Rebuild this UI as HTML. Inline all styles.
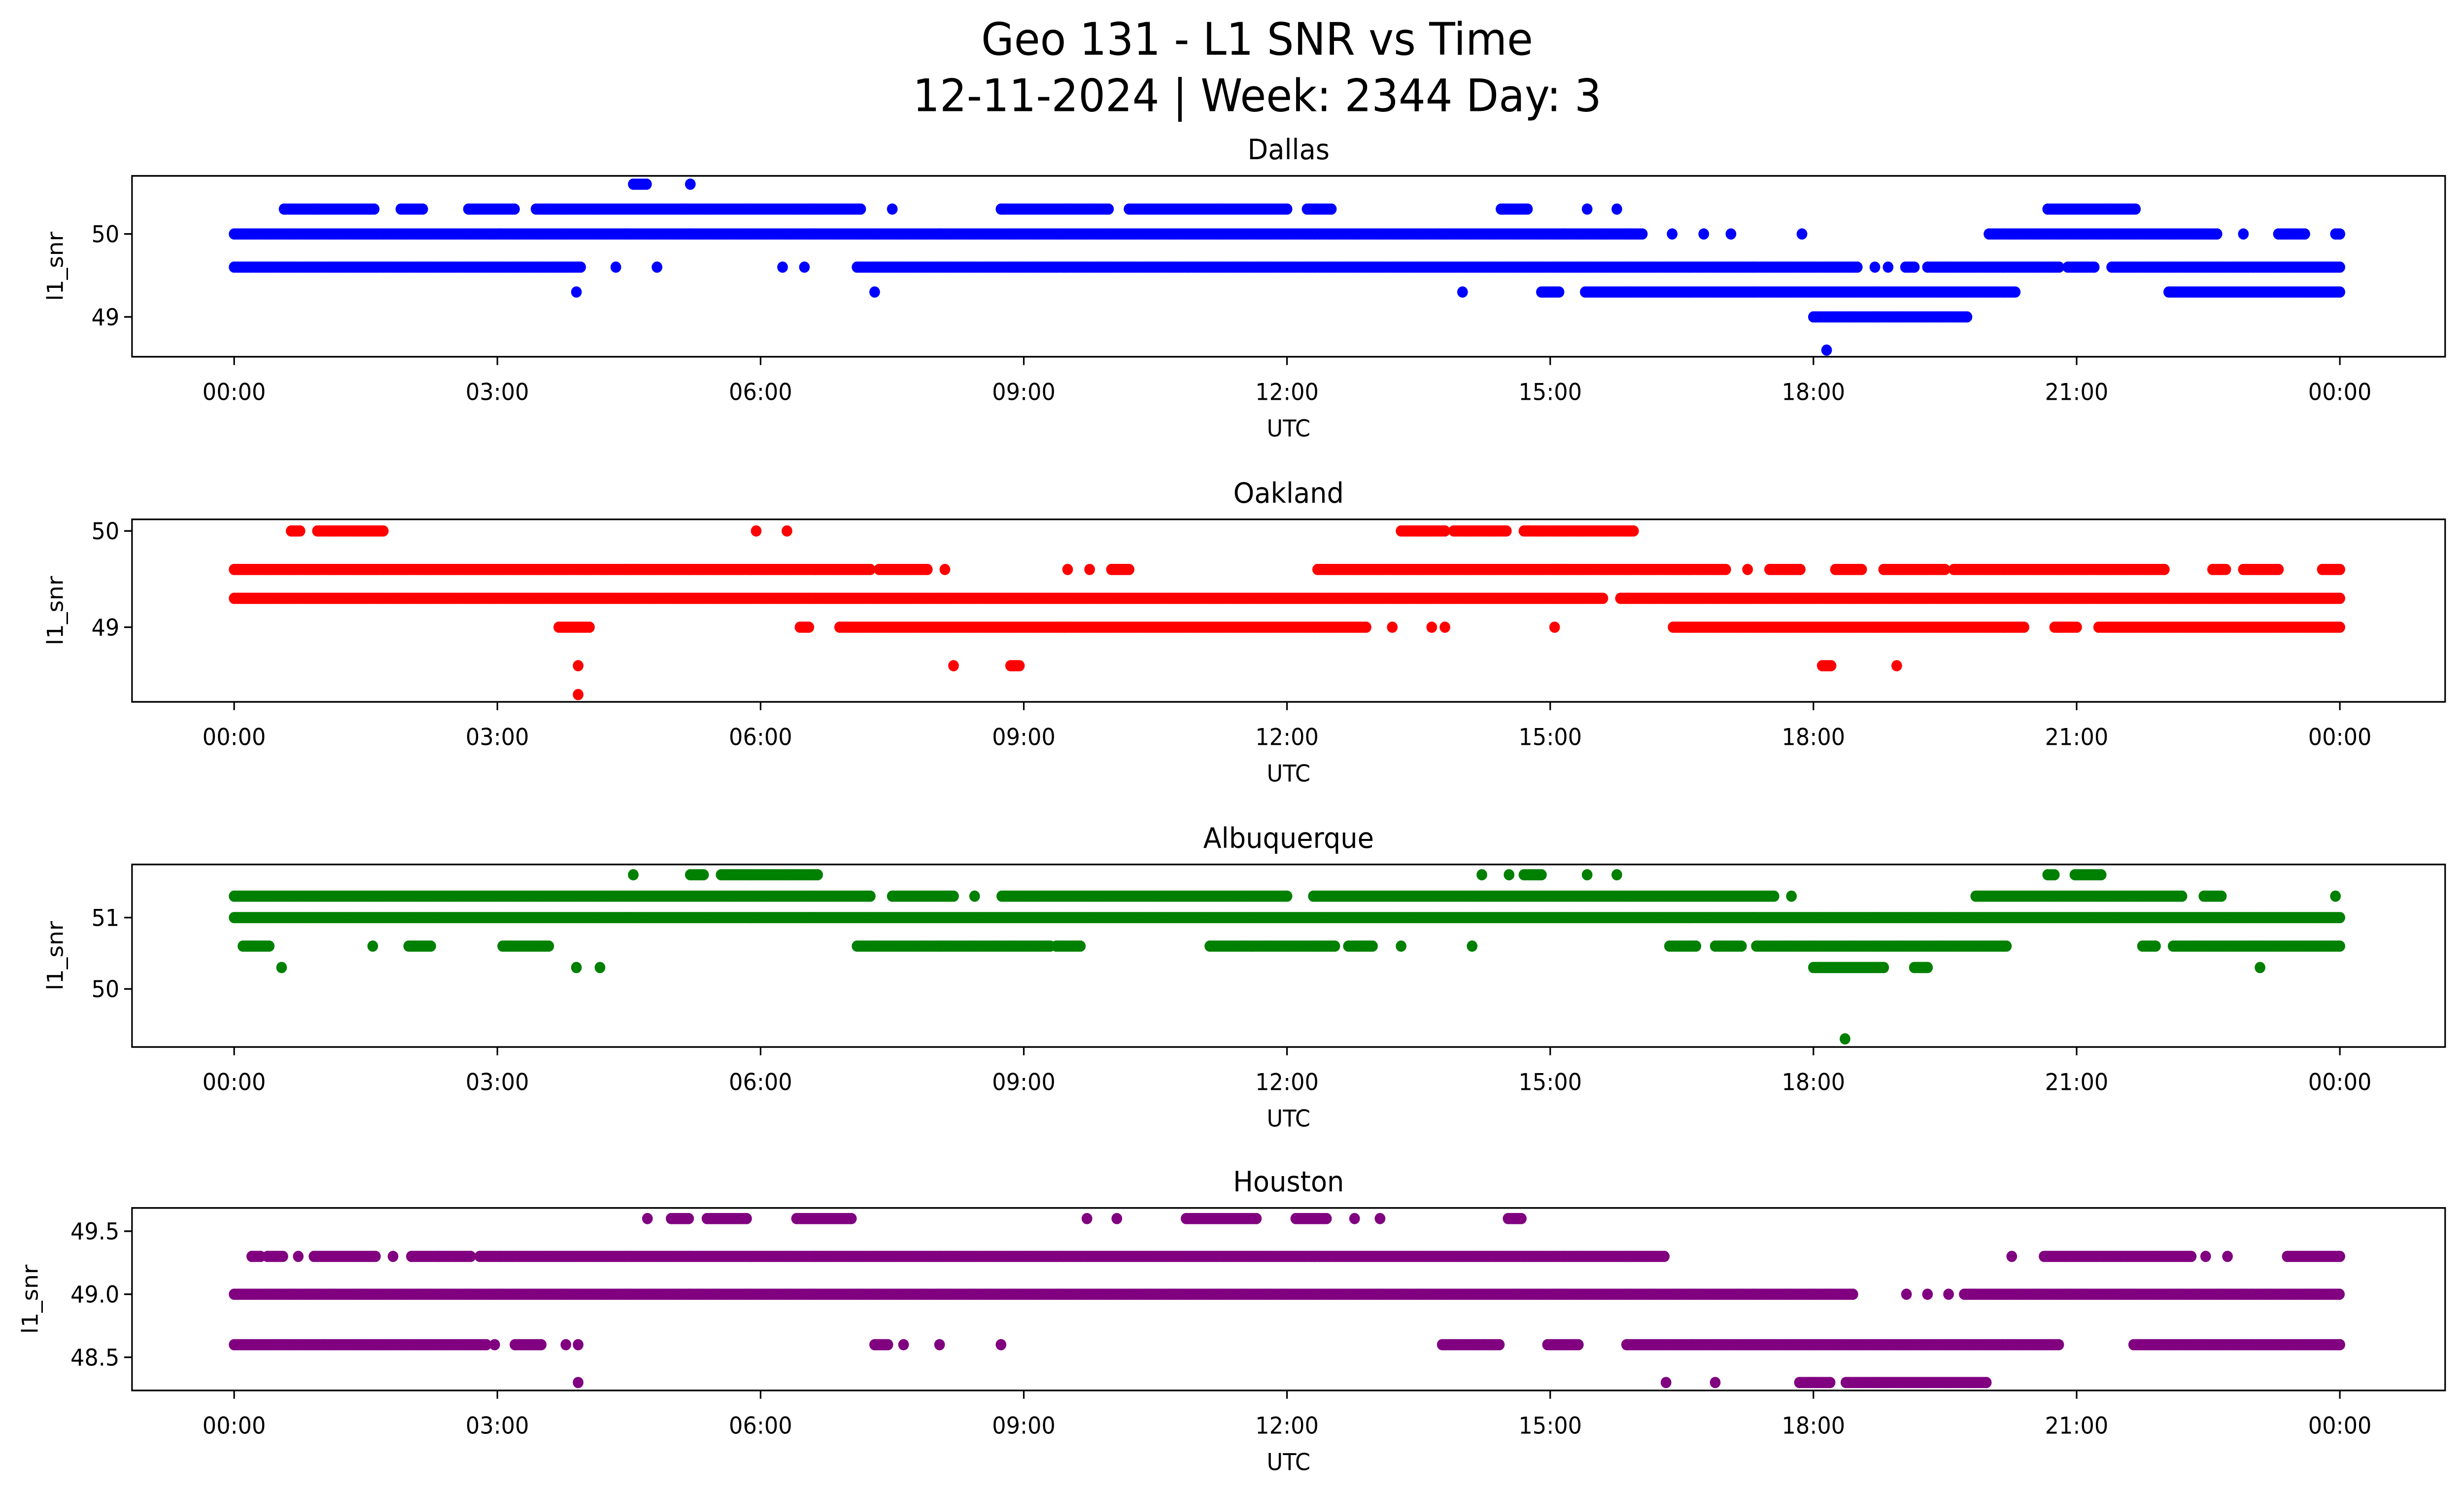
<!DOCTYPE html>
<html><head><meta charset="utf-8"><style>
html,body{margin:0;padding:0;background:#fff;width:100%;height:100%;overflow:hidden}
svg{display:block;position:absolute;left:0;top:0;width:100vw;height:100vh;font-family:"DejaVu Sans","Liberation Sans",sans-serif}
</style></head><body>
<svg id="fig" viewBox="0 0 1568 901" preserveAspectRatio="none" xmlns="http://www.w3.org/2000/svg">
<rect width="1568" height="901" fill="#fff"/>
<text x="800" y="33" font-size="27" text-anchor="middle">Geo 131 - L1 SNR vs Time</text>
<text x="800" y="67" font-size="27" text-anchor="middle">12-11-2024 | Week: 2344 Day: 3</text>
</svg>
<script>
const xTickLabels = ["00:00","03:00","06:00","09:00","12:00","15:00","18:00","21:00","00:00"];
const xTickHours = [0,3,6,9,12,15,18,21,24];
const stationNames = ["Dallas","Oakland","Albuquerque","Houston"];
const stationColors = ["blue","red","green","purple"];
const dallasLevels = [50.6,50.3,50.0,49.6,49.3,49.0,48.6];
const dallasRuns = [
 [[4.55,4.7],[5.2,5.2]],
 [[0.57,1.6],[1.9,2.17],[2.67,3.2],[3.44,7.15],[7.5,7.5],[8.74,9.98],[10.2,12.0],[12.23,12.52],[14.44,14.74],[15.42,15.42],[15.76,15.76],[20.67,21.69]],
 [[0,16.05],[16.39,16.39],[16.75,16.75],[17.06,17.06],[17.87,17.87],[20.0,22.6],[22.9,22.9],[23.3,23.6],[23.95,24]],
 [[0,3.95],[4.35,4.35],[4.82,4.82],[6.25,6.25],[6.5,6.5],[7.1,18.5],[18.7,18.7],[18.85,18.85],[19.05,19.15],[19.3,20.8],[20.9,21.2],[21.4,24]],
 [[3.9,3.9],[7.3,7.3],[14.0,14.0],[14.9,15.1],[15.4,20.3],[22.05,24]],
 [[18.0,19.75]],
 [[18.15,18.15]]
];
const oaklandLevels = [50.0,49.6,49.3,49.0,48.6,48.3];
const oaklandRuns = [
 [[0.65,0.75],[0.95,1.7],[5.95,5.95],[6.3,6.3],[13.3,13.8],[13.9,14.5],[14.7,15.95]],
 [[0,7.27],[7.35,7.9],[8.1,8.1],[9.5,9.5],[9.75,9.75],[10,10.2],[12.35,17.0],[17.25,17.25],[17.5,17.85],[18.25,18.55],[18.8,19.5],[19.6,22.0],[22.55,22.7],[22.9,23.3],[23.8,24]],
 [[0,15.6],[15.8,24]],
 [[3.7,4.05],[6.45,6.55],[6.9,12.9],[13.2,13.2],[13.65,13.65],[13.8,13.8],[15.05,15.05],[16.4,20.4],[20.75,21.0],[21.25,24]],
 [[3.92,3.92],[8.2,8.2],[8.85,8.95],[18.1,18.2],[18.95,18.95]],
 [[3.92,3.92]]
];
const albuquerqueLevels = [51.6,51.3,51.0,50.6,50.3,49.3];
const albuquerqueRuns = [
 [[4.55,4.55],[5.2,5.35],[5.55,6.65],[14.22,14.22],[14.53,14.53],[14.7,14.92],[15.42,15.42],[15.76,15.76],[20.67,20.76],[20.98,21.28]],
 [[0,7.25],[7.5,8.2],[8.44,8.44],[8.75,12.0],[12.3,17.55],[17.75,17.75],[19.85,22.2],[22.45,22.65],[23.95,23.95]],
 [[0,24]],
 [[0.1,0.4],[1.58,1.58],[1.99,2.26],[3.06,3.6],[7.1,9.3],[9.37,9.66],[11.12,12.55],[12.7,12.98],[13.3,13.3],[14.11,14.11],[16.36,16.67],[16.88,17.2],[17.35,20.2],[21.75,21.9],[22.1,24]],
 [[0.54,0.54],[3.9,3.9],[4.17,4.17],[18.0,18.8],[19.15,19.3],[23.09,23.09]],
 [[18.36,18.36]]
];
const houstonLevels = [49.6,49.3,49.0,48.6,48.3];
const houstonRuns = [
 [[4.71,4.71],[4.98,5.2],[5.39,5.84],[6.41,7.04],[9.72,9.72],[10.06,10.06],[10.85,11.66],[12.1,12.47],[12.77,12.77],[13.06,13.06],[14.52,14.67]],
 [[0.2,0.3],[0.38,0.56],[0.73,0.73],[0.91,1.63],[1.81,1.81],[2.02,2.7],[2.8,16.3],[20.26,20.26],[20.63,22.32],[22.47,22.47],[22.72,22.72],[23.4,24]],
 [[0,18.47],[19.06,19.06],[19.3,19.3],[19.54,19.54],[19.72,24]],
 [[0,2.88],[2.97,2.97],[3.2,3.51],[3.78,3.78],[3.92,3.92],[7.3,7.45],[7.63,7.63],[8.04,8.04],[8.74,8.74],[13.77,14.43],[14.97,15.33],[15.87,20.8],[21.65,24]],
 [[3.92,3.92],[16.32,16.32],[16.88,16.88],[17.84,18.2],[18.37,19.97]]
];
const dallasYTicks = [49,50];
const oaklandYTicks = [49,50];
const albuquerqueYTicks = [50,51];
const houstonYTicks = [48.5,49.0,49.5];
const houstonYTickLabels = ["48.5","49.0","49.5"];

const NS="http://www.w3.org/2000/svg";
const svg=document.getElementById('fig');
function mk(tag,attrs,parent){const e=document.createElementNS(NS,tag);for(const k in attrs)e.setAttribute(k,attrs[k]);(parent||svg).appendChild(e);return e;}
const panels=[
 {top:106,bottom:215,va:50,pa:141,vb:49,pb:191,levels:dallasLevels,runs:dallasRuns,ticks:dallasYTicks,labels:["49","50"],ylx:40},
 {top:313,bottom:423,va:50,pa:320,vb:49,pb:378,levels:oaklandLevels,runs:oaklandRuns,ticks:oaklandYTicks,labels:["49","50"],ylx:40},
 {top:521,bottom:631,va:51,pa:553,vb:50,pb:596,levels:albuquerqueLevels,runs:albuquerqueRuns,ticks:albuquerqueYTicks,labels:["50","51"],ylx:40},
 {top:728,bottom:838,va:49.5,pa:742,vb:48.5,pb:818,levels:houstonLevels,runs:houstonRuns,ticks:houstonYTicks,labels:houstonYTickLabels,ylx:24}
];
const L=84,R=1556;
function xScale(h){return 149+h*(1340/24);}
panels.forEach((p,i)=>{
 const yScale=v=>p.pa+(v-p.va)*(p.pb-p.pa)/(p.vb-p.va);
 const g=mk('g',{});
 
 
 const t=mk('text',{x:(L+R)/2,y:p.top-10,'font-size':17,'text-anchor':'middle'},g);
 
 
 t.textContent=stationNames[i];
 const pts=mk('g',{fill:stationColors[i]},g);
 
 
 p.levels.forEach((lv,li)=>{
  const y=yScale(lv);
  p.runs[li].forEach(r=>{
   for(let h=r[0];h<=r[1]+1e-6;h+=0.025){
    const c=mk('circle',{cx:xScale(h).toFixed(1),cy:y.toFixed(1),r:3.4},pts);
    
    
   }
  });
 });
 const frame=mk('rect',{x:L,y:p.top,width:R-L,height:p.bottom-p.top,fill:'none',stroke:'#000','stroke-width':1},g);
 
 
 xTickHours.forEach((h,k)=>{
  const x=xScale(h);
  mk('line',{x1:x,x2:x,y1:p.bottom,y2:p.bottom+5,stroke:'#000'},g);
  const tl=mk('text',{x:x,y:p.bottom+26,'font-size':14,'text-anchor':'middle'},g);
  
  
  tl.textContent=xTickLabels[k];
 });
 p.ticks.forEach((v,k)=>{
  const y=yScale(v);
  mk('line',{x1:L-5,x2:L,y1:y,y2:y,stroke:'#000'},g);
  const tl=mk('text',{x:L-8,y:y+5,'font-size':14,'text-anchor':'end'},g);
  
  
  tl.textContent=p.labels[k];
 });
 const xl=mk('text',{x:(L+R)/2,y:p.bottom+48,'font-size':14,'text-anchor':'middle'},g);
 
 
 xl.textContent='UTC';
 const yc=(p.top+p.bottom)/2;
 const yl=mk('text',{x:p.ylx,y:yc,'font-size':14,'text-anchor':'middle',transform:`rotate(-90 ${p.ylx} ${yc})`},g);
 
 
 yl.textContent='l1_snr';
});
</script>
</body></html>
